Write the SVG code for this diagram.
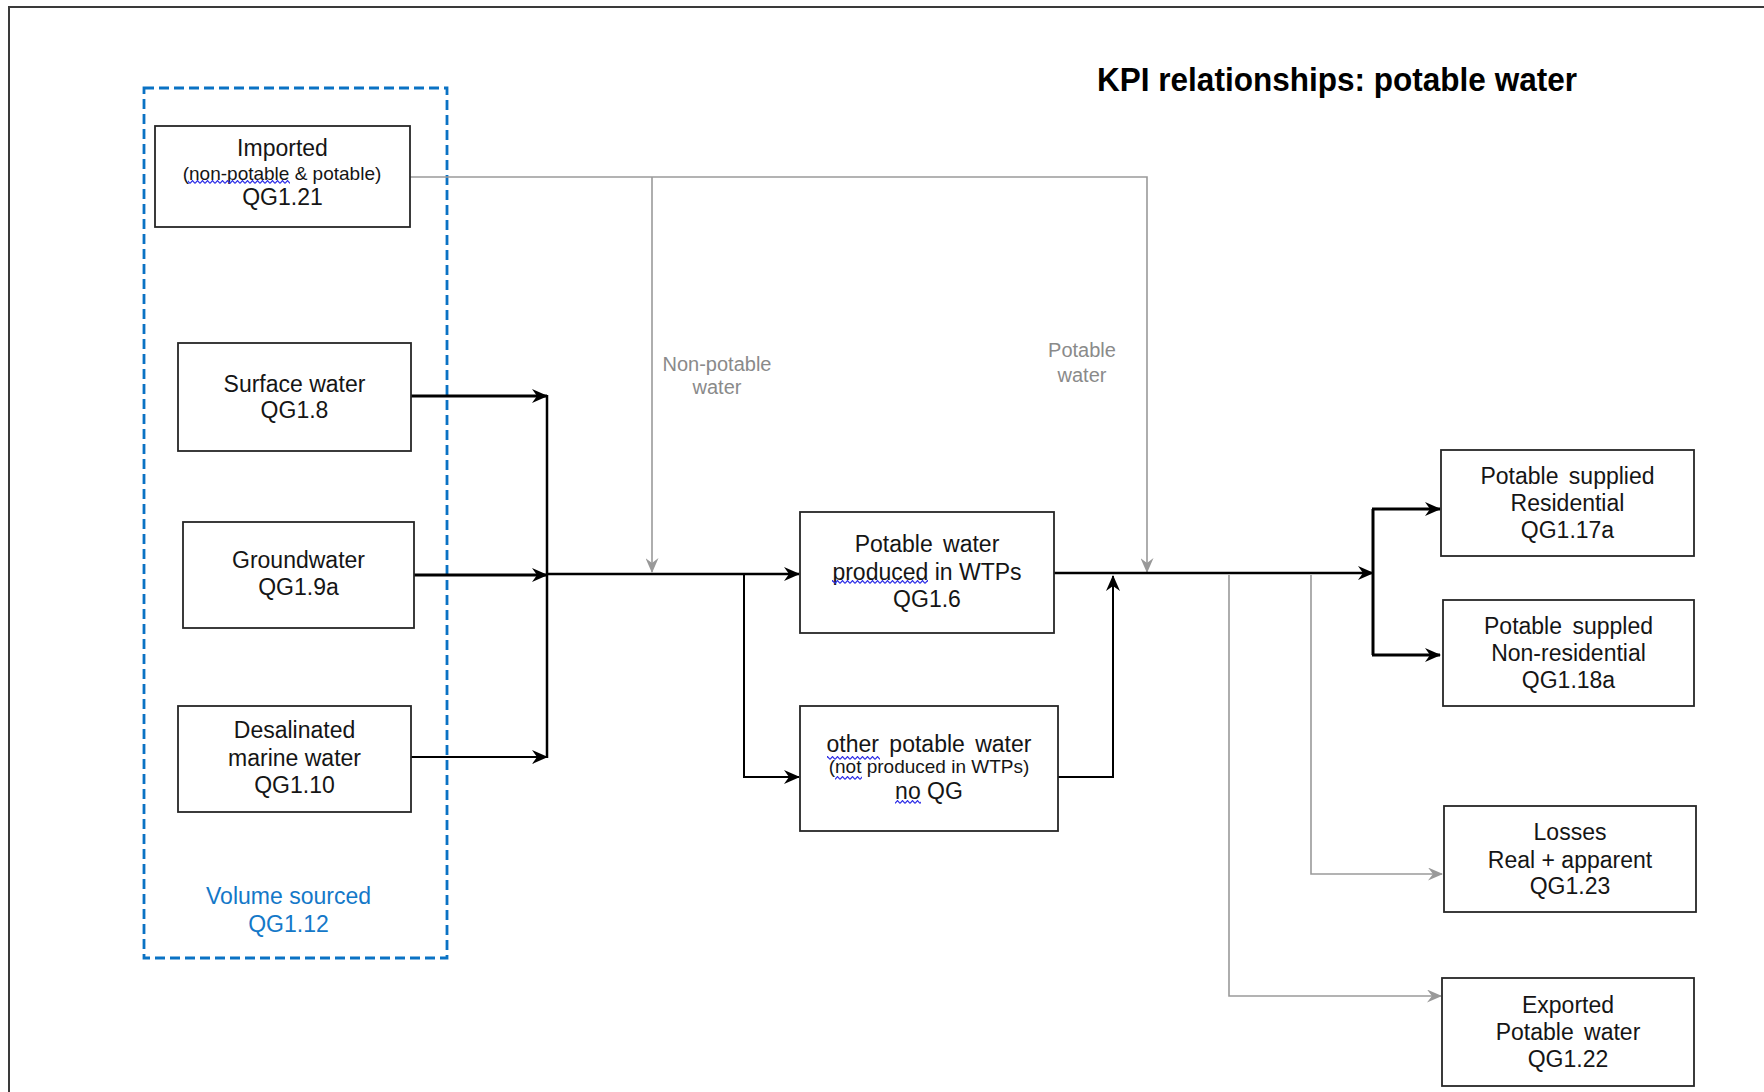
<svg xmlns="http://www.w3.org/2000/svg" width="1764" height="1092" viewBox="0 0 1764 1092">
<style>
.box{fill:#fff;stroke:#262626;stroke-width:1.8}
.t{font-family:"Liberation Sans",Arial,sans-serif;font-size:23px;fill:#151515;text-anchor:middle}
.ts{font-size:19px}
.ws{word-spacing:4px}
.lbl{font-family:"Liberation Sans",Arial,sans-serif;font-size:20px;fill:#8a8a8a;text-anchor:middle}
.vs{fill:#1478c8}
.k3{stroke:#000;stroke-width:3;fill:none}
.k25{stroke:#000;stroke-width:2.5;fill:none}
.k2{stroke:#000;stroke-width:2;fill:none}
.g{stroke:#9a9a9a;stroke-width:1.6;fill:none}
.sq{fill:url(#squig)}
</style>
<defs>
<marker id="ak" markerUnits="userSpaceOnUse" viewBox="0 0 16 14" markerWidth="16" markerHeight="14" refX="15" refY="7" orient="auto">
<path d="M0,0 L16,7 L0,14 L5,7 z" fill="#000"/>
</marker>
<marker id="ag" markerUnits="userSpaceOnUse" viewBox="0 0 15 13" markerWidth="15" markerHeight="13" refX="14" refY="6.5" orient="auto">
<path d="M0,0 L15,6.5 L0,13 L5,6.5 z" fill="#999"/>
</marker>
<pattern id="squig" patternUnits="userSpaceOnUse" x="0" y="0" width="5" height="4">
<path d="M0,3.4 L2.5,0.6 L5,3.4" fill="none" stroke="#2a2ae6" stroke-width="1.2"/>
</pattern>
</defs>
<rect width="1764" height="1092" fill="#fff"/>
<path d="M9,1092 V7 H1764" fill="none" stroke="#3a3a3a" stroke-width="2"/>
<text x="1337" y="91" font-family="'Liberation Sans',Arial,sans-serif" font-size="33" font-weight="bold" fill="#000" text-anchor="middle" textLength="480" lengthAdjust="spacingAndGlyphs">KPI relationships: potable water</text>

<g id="volume-sourced">
<rect x="144" y="88" width="303" height="870" fill="none" stroke="#0a72c4" stroke-width="2.8" stroke-dasharray="10 5"/>
<text class="t vs" x="288.5" y="904">Volume sourced</text>
<text class="t vs" x="288.5" y="932">QG1.12</text>
</g>

<g id="connectors">
<path class="g" d="M410,177 H1147 V572" marker-end="url(#ag)"/>
<path class="g" d="M652,177 V572" marker-end="url(#ag)"/>
<text class="lbl" x="717" y="371">Non-potable</text>
<text class="lbl" x="717" y="394">water</text>
<text class="lbl" x="1082" y="357">Potable</text>
<text class="lbl" x="1082" y="382">water</text>
<path class="k3" d="M411,396 H547" marker-end="url(#ak)"/>
<path class="k3" d="M414,575 H547" marker-end="url(#ak)"/>
<path class="k2" d="M411,757 H547" marker-end="url(#ak)"/>
<path class="k25" d="M547,395 V758"/>
<path class="k25" d="M547,574 H799" marker-end="url(#ak)"/>
<path class="k2" d="M744,574 V777 H799" marker-end="url(#ak)"/>
<path class="k2" d="M1058,777 H1113 V576" marker-end="url(#ak)"/>
<path class="k25" d="M1054,573 H1373" marker-end="url(#ak)"/>
<path class="k3" d="M1373,509 V655"/>
<path class="k3" d="M1372,509 H1440" marker-end="url(#ak)"/>
<path class="k3" d="M1372,655 H1440" marker-end="url(#ak)"/>
<path class="g" d="M1311,575 V874 H1442" marker-end="url(#ag)"/>
<path class="g" d="M1229,575 V996 H1441" marker-end="url(#ag)"/>
</g>

<g id="imported">
<rect class="box" x="155" y="126" width="255" height="101"/>
<text class="t" x="282.5" y="156">Imported</text>
<text class="t ts" x="282" y="180">(non-potable &amp; potable)</text>
<rect class="sq" x="188" y="180" width="102" height="4"/>
<text class="t" x="282.5" y="205">QG1.21</text>
</g>

<g id="surface-water">
<rect class="box" x="178" y="343" width="233" height="108"/>
<text class="t" x="294.5" y="392">Surface water</text>
<text class="t" x="294.5" y="418">QG1.8</text>
</g>

<g id="groundwater">
<rect class="box" x="183" y="522" width="231" height="106"/>
<text class="t" x="298.5" y="568">Groundwater</text>
<text class="t" x="298.5" y="595">QG1.9a</text>
</g>

<g id="desalinated">
<rect class="box" x="178" y="706" width="233" height="106"/>
<text class="t" x="294.5" y="738">Desalinated</text>
<text class="t" x="294.5" y="766">marine water</text>
<text class="t" x="294.5" y="793">QG1.10</text>
</g>

<g id="potable-wtp">
<rect class="box" x="800" y="512" width="254" height="121"/>
<text class="t ws" x="927" y="552">Potable water</text>
<text class="t" x="927" y="580">produced in WTPs</text>
<rect class="sq" x="832" y="580" width="96" height="4"/>
<text class="t" x="927" y="607">QG1.6</text>
</g>

<g id="other-potable">
<rect class="box" x="800" y="706" width="258" height="125"/>
<text class="t ws" x="929" y="752">other potable water</text>
<rect class="sq" x="827" y="756" width="53" height="4"/>
<text class="t ts" x="929" y="773">(not produced in WTPs)</text>
<rect class="sq" x="835" y="776" width="27" height="4"/>
<text class="t" x="929" y="799">no QG</text>
<rect class="sq" x="895" y="800" width="26" height="4"/>
</g>

<g id="residential">
<rect class="box" x="1441" y="450" width="253" height="106"/>
<text class="t ws" x="1567.5" y="484">Potable supplied</text>
<text class="t" x="1567.5" y="511">Residential</text>
<text class="t" x="1567.5" y="538">QG1.17a</text>
</g>

<g id="non-residential">
<rect class="box" x="1443" y="600" width="251" height="106"/>
<text class="t ws" x="1568.5" y="634">Potable suppled</text>
<text class="t" x="1568.5" y="661">Non-residential</text>
<text class="t" x="1568.5" y="688">QG1.18a</text>
</g>

<g id="losses">
<rect class="box" x="1444" y="806" width="252" height="106"/>
<text class="t" x="1570" y="840">Losses</text>
<text class="t" x="1570" y="868">Real + apparent</text>
<text class="t" x="1570" y="894">QG1.23</text>
</g>

<g id="exported">
<rect class="box" x="1442" y="978" width="252" height="108"/>
<text class="t" x="1568" y="1013">Exported</text>
<text class="t ws" x="1568" y="1040">Potable water</text>
<text class="t" x="1568" y="1067">QG1.22</text>
</g>
</svg>
